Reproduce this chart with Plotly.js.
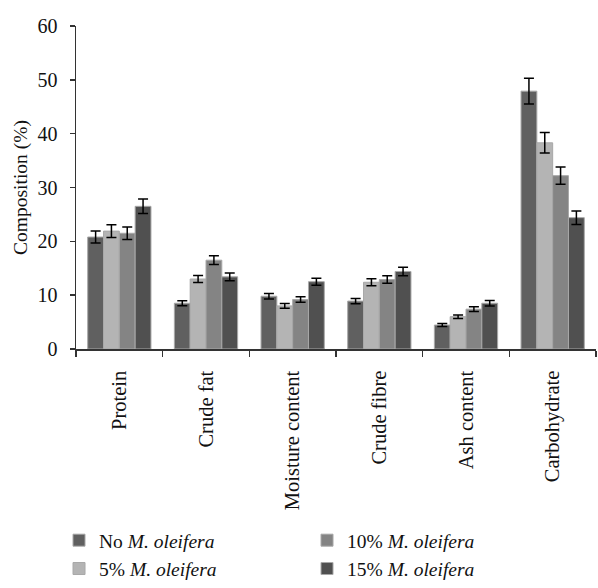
<!DOCTYPE html>
<html>
<head>
<meta charset="utf-8">
<script src="https://cdn.plot.ly/plotly-3.0.1.min.js"></script>
<style>html,body{margin:0;padding:0;background:#fff;}#chart{width:598px;height:588px;}</style>
</head>
<body>
<div id="chart"></div>
<script>
const categories = ["Protein", "Crude fat", "Moisture content", "Crude fibre", "Ash content", "Carbohydrate"];
const seriesNames = ["No <i>M. oleifera</i>", "5% <i>M. oleifera</i>", "10% <i>M. oleifera</i>", "15% <i>M. oleifera</i>"];
const noMo      = [20.8, 8.5, 9.8, 8.9, 4.45, 47.9];
const mo5       = [21.9, 13.0, 8.0, 12.4, 6.0, 38.3];
const mo10      = [21.5, 16.5, 9.2, 12.9, 7.4, 32.2];
const mo15      = [26.5, 13.4, 12.5, 14.4, 8.5, 24.4];
const errNoMo   = [1.1, 0.45, 0.5, 0.5, 0.28, 2.4];
const errMo5    = [1.2, 0.65, 0.45, 0.65, 0.33, 1.9];
const errMo10   = [1.15, 0.8, 0.5, 0.7, 0.45, 1.6];
const errMo15   = [1.35, 0.7, 0.65, 0.8, 0.5, 1.25];
const yTicks    = [0, 10, 20, 30, 40, 50, 60];

const colors = ["#606060", "#b4b4b4", "#848484", "#505050"];
const values = [noMo, mo5, mo10, mo15];
const errs = [errNoMo, errMo5, errMo10, errMo15];
const ranks = [1, 3, 2, 4];
const font = "Liberation Serif, Times New Roman, serif";

const traces = values.map((v, i) => ({
  type: "bar",
  x: categories,
  y: v,
  name: seriesNames[i],
  legendrank: ranks[i],
  marker: {color: colors[i], line: {color: "#a8a8a8", width: 1}},
  error_y: {type: "data", array: errs[i], visible: true, color: "#000", thickness: 1.5, width: 5}
}));

const layout = {
  width: 598, height: 588,
  margin: {l: 76, r: 2, t: 26, b: 239},
  paper_bgcolor: "#fff", plot_bgcolor: "#fff",
  font: {family: font, size: 19, color: "#111"},
  barmode: "group",
  bargap: 0.27,
  bargroupgap: 0,
  showlegend: true,
  legend: {
    orientation: "h",
    xref: "container", x: 0.0987, xanchor: "left",
    yref: "container", y: -0.005, yanchor: "bottom",
    entrywidth: 203, entrywidthmode: "pixels",
    font: {family: font, size: 19.5, color: "#111"},
    traceorder: "normal", itemclick: false
  },
  xaxis: {
    type: "category",
    showline: true, linecolor: "#333", linewidth: 1.5,
    ticks: "outside", tickson: "boundaries", ticklen: 6, tickcolor: "#333", tickwidth: 1.5,
    tickangle: -90, ticklabelstandoff: 12,
    tickfont: {family: font, size: 20.5, color: "#111"},
    showgrid: false, zeroline: false, automargin: false
  },
  yaxis: {
    range: [0, 60],
    tickvals: yTicks,
    showline: true, linecolor: "#333", linewidth: 1.5,
    ticks: "outside", ticklen: 5, tickcolor: "#333", tickwidth: 1.5,
    ticklabelstandoff: 8,
    showgrid: false, zeroline: false, automargin: false,
    tickfont: {family: font, size: 20, color: "#111"},
    title: {text: "Composition (%)", font: {family: font, size: 19.5, color: "#111"}, standoff: 4}
  }
};

Plotly.newPlot("chart", traces, layout, {displayModeBar: false, staticPlot: true});
</script>
</body>
</html>
